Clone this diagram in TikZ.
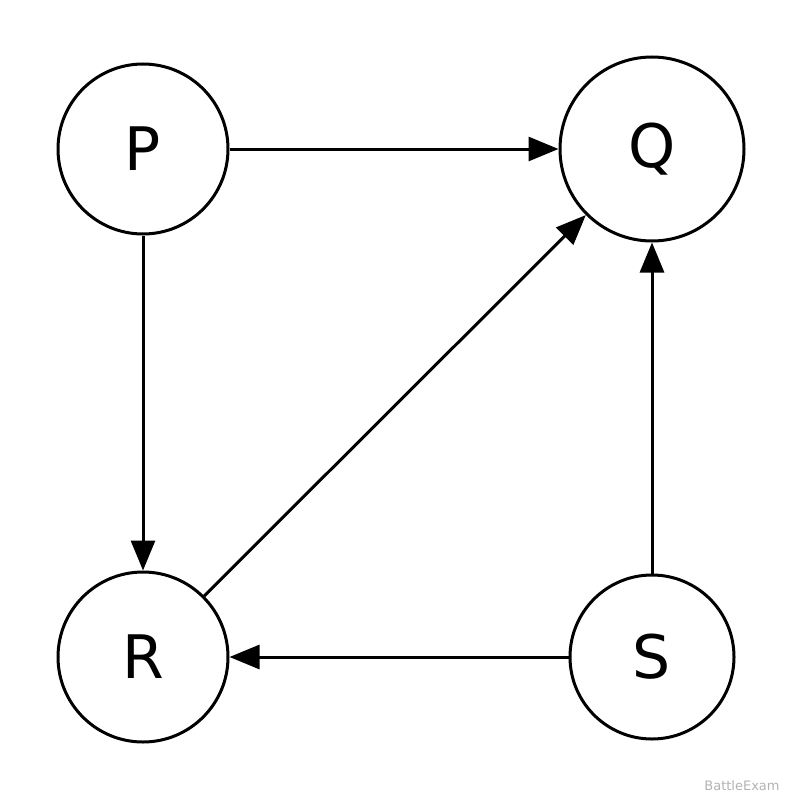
\documentclass[tikz,border=0pt]{standalone}
\usepackage{fontspec}
\setmainfont{DejaVu Sans}
\usetikzlibrary{arrows.meta}
\begin{document}
\begin{tikzpicture}[x=1pt,y=-1pt,
  st/.style={circle,draw,line width=3pt,inner sep=0pt,font=\fontsize{60}{60}\selectfont},
  ar/.style={line width=3pt,-{Triangle[length=30pt,width=24pt]}}]
\useasboundingbox (0,0) rectangle (800,800);
\node[st,minimum size=170pt] (P) at (143,149) {P};
\node[st,minimum size=184pt] (Q) at (652,149) {Q};
\node[st,minimum size=170pt] (R) at (143,657) {R};
\node[st,minimum size=164pt] (S) at (652,657) {S};
\draw[ar] (P) -- (Q);
\draw[ar] (P) -- (R);
\draw[ar] (R) -- (Q);
\draw[ar] (S) -- (Q);
\draw[ar] (S) -- (R);
\node[text=gray!60,font=\fontsize{13}{13}\selectfont] (w) at (742,786) {BattleExam};
\end{tikzpicture}
\end{document}
